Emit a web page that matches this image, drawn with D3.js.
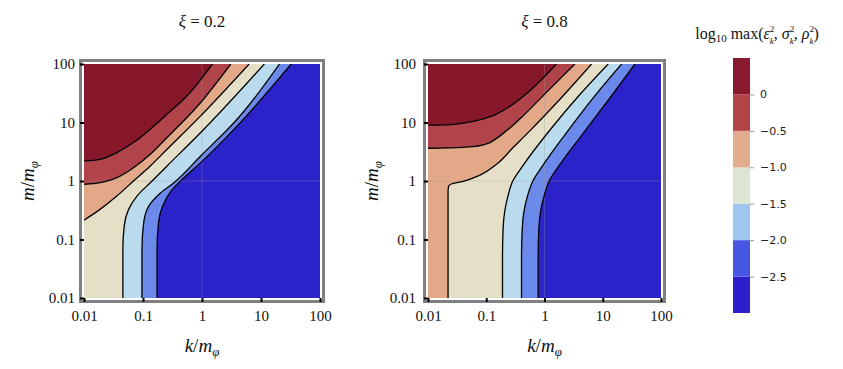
<!DOCTYPE html>
<html><head><meta charset="utf-8">
<script src="https://cdn.jsdelivr.net/npm/d3@7"></script>
<style>
body{margin:0;background:#fff}svg{display:block}
.serif{font-family:"Liberation Serif","Times New Roman","DejaVu Serif",serif}
.sans{font-family:"DejaVu Sans","Liberation Sans",sans-serif}
</style>
</head><body><svg id="c" width="843" height="369"></svg>
<script>
// ---------- data ----------
const kTickValues = [0.01, 0.1, 1, 10, 100];
const kTickLabels = ["0.01", "0.1", "1", "10", "100"];
const mTickValues = [0.01, 0.1, 1, 10, 100];
const mTickLabels = ["0.01", "0.1", "1", "10", "100"];
const levelValues = [0, -0.5, -1.0, -1.5, -2.0, -2.5];
const levelLabels = ["0", "\u22120.5", "\u22121.0", "\u22121.5", "\u22122.0", "\u22122.5"];
const colorbarDomain = [-3.0, 0.5];
const bandEdges = [-3.0, -2.5, -2.0, -1.5, -1.0, -0.5, 0, 0.5];
const panelTitles = ["0.2", "0.8"];

// contour lines, points [k/m_phi, m/m_phi]
// panel xi = 0.2
const xi02_lvl_m25 = [[0.173,0.01],[0.173,0.0674],[0.183,0.193],[0.215,0.373],[0.30,0.68],[0.50,1.15],[0.95,2.06],[3.51,7.7],[32.4,100]];
const xi02_lvl_m20 = [[0.096,0.01],[0.096,0.0674],[0.1026,0.193],[0.125,0.373],[0.185,0.59],[0.334,0.936],[0.95,2.68],[3.51,10],[20.6,100]];
const xi02_lvl_m15 = [[0.0456,0.01],[0.0456,0.0674],[0.048,0.169],[0.057,0.327],[0.079,0.553],[0.133,0.936],[0.256,1.81],[0.95,6.74],[11.4,100]];
const xi02_lvl_m10 = [[0.01,0.214],[0.0187,0.327],[0.036,0.553],[0.069,1.0],[0.133,1.81],[0.256,3.49],[0.95,13],[6.3,100]];
const xi02_lvl_m05 = [[0.01,0.877],[0.0187,0.936],[0.036,1.14],[0.069,1.69],[0.133,2.86],[0.256,5.53],[0.95,22],[3.08,100]];
const xi02_lvl_0   = [[0.01,2.2],[0.0187,2.35],[0.036,3.06],[0.069,4.54],[0.133,7.7],[0.256,13.9],[0.56,28.7],[1.5,100]];
// panel xi = 0.8
const xi08_lvl_m25 = [[0.778,0.01],[0.778,0.05],[0.801,0.158],[0.861,0.316],[0.989,0.562],[1.202,1.0],[1.738,1.778],[4.17,5.75],[12.6,24.5],[35.7,100]];
const xi08_lvl_m20 = [[0.403,0.01],[0.403,0.05],[0.415,0.158],[0.447,0.316],[0.513,0.562],[0.631,1.0],[0.912,1.778],[2.24,6.17],[7.08,27.5],[21.1,100]];
const xi08_lvl_m15 = [[0.19,0.01],[0.19,0.05],[0.195,0.158],[0.209,0.316],[0.237,0.562],[0.285,1.0],[0.417,1.778],[1.26,7.59],[3.98,29.5],[12.4,100]];
const xi08_lvl_m10 = [[0.0221,0.01],[0.0221,0.0674],[0.0221,0.674],[0.0227,0.82],[0.0252,0.889],[0.04,0.986],[0.077,1.25],[0.15,1.93],[0.289,3.73],[0.56,7.2],[2.09,28.7],[6.43,100]];
const xi08_lvl_m05 = [[0.01,3.63],[0.0206,3.68],[0.059,3.88],[0.115,4.54],[0.222,7.2],[0.43,13],[1.08,32.7],[3.32,100]];
const xi08_lvl_0   = [[0.01,9.0],[0.0206,9.12],[0.04,9.75],[0.077,11.1],[0.15,13.9],[0.289,20.6],[0.56,34.9],[1.61,100]];

// ---------- style ----------
const plotColors = ["#2C22CA", "#6A89EA", "#B9DBED", "#E5DFC7", "#E2A888", "#B0444A", "#87172A"];
const barColors  = ["#2A1FC8", "#4657E3", "#9FC6EF", "#DEE4D4", "#E3AC8D", "#B34549", "#8A1A2E"];

const svg = d3.select("#c");

const panels = [
  {title: panelTitles[0], x0: 84, x1: 320, ylabX: 34,
   contours: [xi02_lvl_m25, xi02_lvl_m20, xi02_lvl_m15, xi02_lvl_m10, xi02_lvl_m05, xi02_lvl_0]},
  {title: panelTitles[1], x0: 428, x1: 661, ylabX: 378,
   contours: [xi08_lvl_m25, xi08_lvl_m20, xi08_lvl_m15, xi08_lvl_m10, xi08_lvl_m05, xi08_lvl_0]}
];
const yTop = 64, yBot = 298;

panels.forEach((p, pi) => {
  const x = d3.scaleLog().domain([0.01, 100]).range([p.x0, p.x1]);
  const y = d3.scaleLog().domain([0.01, 100]).range([yBot, yTop]);
  const g = svg.append("g");
  const clipId = "clip" + pi;
  svg.append("defs").append("clipPath").attr("id", clipId)
    .append("rect").attr("x", p.x0).attr("y", yTop).attr("width", p.x1 - p.x0).attr("height", yBot - yTop);
  const pg = g.append("g").attr("clip-path", `url(#${clipId})`);
  pg.append("rect").attr("x", p.x0).attr("y", yTop).attr("width", p.x1 - p.x0).attr("height", yBot - yTop)
    .attr("fill", plotColors[0]);
  const gens = p.contours.map(pts => {
    const isX = pts[0][0] <= 0.0100001;
    if (isX) {
      return {
        area: d3.area().x(d => x(d[0])).y0(y(100)).y1(d => y(d[1])).curve(d3.curveMonotoneX),
        line: d3.line().x(d => x(d[0])).y(d => y(d[1])).curve(d3.curveMonotoneX)
      };
    }
    return {
      area: d3.area().y(d => y(d[1])).x0(x(0.01)).x1(d => x(d[0])).curve(d3.curveMonotoneY),
      line: d3.line().x(d => x(d[0])).y(d => y(d[1])).curve(d3.curveMonotoneY)
    };
  });
  p.contours.forEach((pts, i) => {
    pg.append("path").attr("d", gens[i].area(pts)).attr("fill", plotColors[i + 1]);
  });
  // faint grid lines
  pg.append("line").attr("x1", x(1)).attr("x2", x(1)).attr("y1", yTop).attr("y2", yBot)
    .attr("stroke", "#9a9a9a").attr("stroke-opacity", 0.3).attr("stroke-width", 1);
  pg.append("line").attr("x1", p.x0).attr("x2", p.x1).attr("y1", y(1)).attr("y2", y(1))
    .attr("stroke", "#9a9a9a").attr("stroke-opacity", 0.3).attr("stroke-width", 1);
  p.contours.forEach((pts, i) => {
    pg.append("path").attr("d", gens[i].line(pts)).attr("fill", "none")
      .attr("stroke", "#000").attr("stroke-width", 1.3);
  });
  // frame
  g.append("rect").attr("x", p.x0 - 3.5).attr("y", yTop - 3.5)
    .attr("width", p.x1 - p.x0 + 7).attr("height", yBot - yTop + 7)
    .attr("fill", "none").attr("stroke", "#808080").attr("stroke-width", 3);
  // axes
  const ax = g.append("g").attr("transform", `translate(0,${yBot})`)
    .call(d3.axisBottom(x).tickValues(kTickValues).tickFormat((d, i) => kTickLabels[i]).tickSize(4).tickPadding(8));
  ax.select(".domain").remove();
  ax.attr("font-family", null).attr("font-size", null);
  ax.selectAll("line").attr("stroke", "#000").attr("stroke-width", 2);
  ax.selectAll("text").attr("class", "serif").style("font-size", "15px").attr("fill", "#111");
  const ay = g.append("g").attr("transform", `translate(${p.x0},0)`)
    .call(d3.axisLeft(y).tickValues(mTickValues).tickFormat((d, i) => mTickLabels[i]).tickSize(4).tickPadding(pi ? 8 : 5));
  ay.select(".domain").remove();
  ay.attr("font-family", null).attr("font-size", null);
  ay.selectAll("line").attr("stroke", "#000").attr("stroke-width", 2);
  ay.selectAll("text").attr("class", "serif").style("font-size", "15px").attr("fill", "#111");
  // title
  const cx = (p.x0 + p.x1) / 2;
  const t = g.append("text").attr("class", "serif").attr("x", cx).attr("y", 27).attr("text-anchor", "middle")
    .style("font-size", "17px").attr("fill", "#111").attr("xml:space", "preserve");
  t.append("tspan").attr("font-style", "italic").text("\u03BE");
  t.append("tspan").text(" = " + p.title);
  // x label
  const xl = g.append("text").attr("class", "serif").attr("x", cx).attr("y", 352).attr("text-anchor", "middle")
    .style("font-size", "19px").attr("font-style", "italic").attr("fill", "#111");
  xl.append("tspan").text("k");
  xl.append("tspan").attr("font-style", "normal").text("/");
  xl.append("tspan").text("m");
  xl.append("tspan").style("font-size", "13px").attr("dy", 4).text("\u03C6");
  // y label
  const yl = g.append("text").attr("class", "serif")
    .attr("transform", `translate(${p.ylabX},${(yTop + yBot) / 2}) rotate(-90)`)
    .attr("text-anchor", "middle").style("font-size", "19px")
    .attr("font-style", "italic").attr("fill", "#111");
  yl.append("tspan").text("m");
  yl.append("tspan").attr("font-style", "normal").text("/");
  yl.append("tspan").text("m");
  yl.append("tspan").style("font-size", "13px").attr("dy", 4).text("\u03C6");
});

// ---------- colorbar ----------
const cb = svg.append("g");
const cy = d3.scaleLinear().domain(colorbarDomain).range([313, 58]);
barColors.forEach((c, i) => {
  cb.append("rect").attr("x", 733).attr("width", 17)
    .attr("y", cy(bandEdges[i + 1])).attr("height", cy(bandEdges[i]) - cy(bandEdges[i + 1]))
    .attr("fill", c);
});
const cax = cb.append("g").attr("transform", "translate(750,0)")
  .call(d3.axisRight(cy).tickValues(levelValues).tickFormat((d, i) => levelLabels[i]).tickSize(4).tickPadding(6));
cax.select(".domain").remove();
cax.attr("font-family", null).attr("font-size", null);
cax.selectAll("line").attr("stroke", "#999");
cax.selectAll("text").attr("class", "sans").style("font-size", "11px").attr("fill", "#222");

const ct = cb.append("text").attr("class", "serif").attr("x", 757).attr("y", 39).attr("text-anchor", "middle")
  .style("font-size", "16px").attr("fill", "#111");
ct.append("tspan").text("log");
ct.append("tspan").style("font-size", "11px").attr("dy", 3).text("10");
ct.append("tspan").attr("dy", -3).text(" max(");
[["\u03B5", ", "], ["\u03C3", ", "], ["\u03C1", ")"]].forEach(([s, after]) => {
  ct.append("tspan").attr("font-style", "italic").text(s);
  ct.append("tspan").style("font-size", "9px").attr("dy", -7).text("2");
  ct.append("tspan").style("font-size", "9px").attr("font-style", "italic").attr("dx", -4.5).attr("dy", 11.5).text("k");
  ct.append("tspan").attr("dy", -4.5).text(after);
});
</script></body></html>
